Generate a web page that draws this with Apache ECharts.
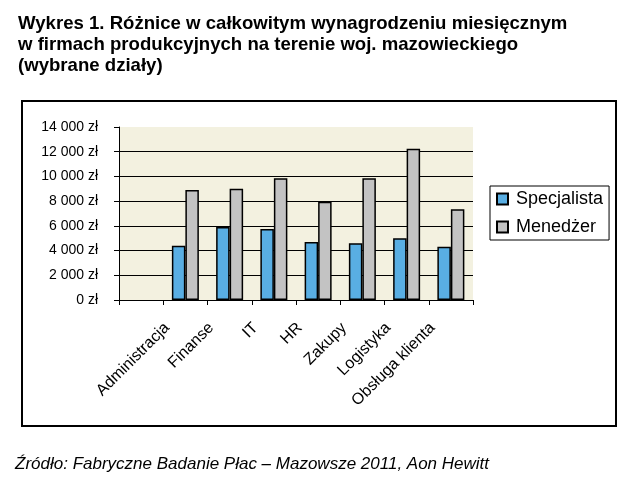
<!DOCTYPE html>
<html>
<head>
<meta charset="utf-8">
<script src="https://cdn.jsdelivr.net/npm/echarts@6/dist/echarts.min.js"></script>
<style>html,body{margin:0;padding:0;background:#fff;}#c{width:639px;height:481px;}</style>
</head>
<body>
<div id="c"></div>
<script>
const titleLines = ['Wykres 1. Różnice w całkowitym wynagrodzeniu miesięcznym', 'w firmach produkcyjnych na terenie woj. mazowieckiego', '(wybrane działy)'];
const sourceText = 'Źródło: Fabryczne Badanie Płac – Mazowsze 2011, Aon Hewitt';
const categories = ['', 'Administracja', 'Finanse', 'IT', 'HR', 'Zakupy', 'Logistyka', 'Obsługa klienta'];
const seriesNames = ['Specjalista', 'Menedżer'];
const specjalista = [null, 4400, 5900, 5750, 4700, 4600, 5000, 4300];
const menedzer = [null, 8900, 9000, 9850, 7950, 9850, 12250, 7350];
const yTicks = [0, 2000, 4000, 6000, 8000, 10000, 12000, 14000];

const FONT = '"Liberation Sans", Arial, sans-serif';
const chart = echarts.init(document.getElementById('c'), null, {renderer: 'canvas'});
function fmt(v) {
  return String(v).replace(/\B(?=(\d{3})+(?!\d))/g, ' ') + ' zł';
}
chart.setOption({
  animation: false,
  backgroundColor: '#ffffff',
  title: {
    text: titleLines.join('\n'),
    left: 13, top: 8,
    textStyle: {fontFamily: FONT, fontSize: 18.6, fontWeight: 'bold', color: '#000', lineHeight: 21}
  },
  graphic: [
    {type: 'rect', shape: {x: 22, y: 101, width: 594, height: 325}, style: {fill: 'none', stroke: '#000', lineWidth: 2}, z: 0},
    {type: 'text', left: 15, top: 456, style: {text: sourceText, font: 'italic 17px ' + FONT, fill: '#000'}}
  ],
  legend: {
    orient: 'vertical',
    left: 490, top: 186,
    data: seriesNames,
    backgroundColor: '#fff',
    borderColor: '#000', borderWidth: 1,
    padding: [4, 6, 4, 6],
    itemWidth: 11, itemHeight: 11, itemGap: 10,
    icon: 'rect',
    textStyle: {fontFamily: FONT, fontSize: 18, color: '#000', padding: [0, 0, 0, 3]}
  },
  grid: {
    left: 119, right: 166, top: 127, bottom: 181,
    show: true, backgroundColor: '#F3F1E0', borderWidth: 0
  },
  xAxis: {
    type: 'category',
    data: categories,
    boundaryGap: true,
    axisLine: {show: true, lineStyle: {color: '#000', width: 1}},
    axisTick: {show: true, interval: 0, length: 5, inside: false, lineStyle: {color: '#000'}},
    axisLabel: {
      interval: 0, rotate: 45, margin: 7,
      fontFamily: FONT, fontSize: 16, color: '#000',
      padding: [0, 26, 0, 0]
    },
    splitLine: {show: false}
  },
  yAxis: {
    type: 'value',
    min: yTicks[0], max: yTicks[yTicks.length - 1], interval: 2000,
    axisLine: {show: true, lineStyle: {color: '#000', width: 1}},
    axisTick: {show: true, length: 5, lineStyle: {color: '#000'}},
    axisLabel: {formatter: fmt, fontFamily: FONT, fontSize: 14, color: '#000', margin: 21},
    splitLine: {show: true, lineStyle: {color: ['#000', '#000', '#000', '#000', '#000', '#000', '#000', 'rgba(0,0,0,0)'], width: 1}}
  },
  series: [
    {
      name: seriesNames[0], type: 'bar', data: specjalista,
      barGap: '0%', barCategoryGap: '39%',
      itemStyle: {color: '#59AEE3', borderColor: '#000', borderWidth: 1.5}
    },
    {
      name: seriesNames[1], type: 'bar', data: menedzer,
      barGap: '0%', barCategoryGap: '39%',
      itemStyle: {color: '#C3C3C3', borderColor: '#000', borderWidth: 1.5}
    }
  ]
});
</script>
</body>
</html>
